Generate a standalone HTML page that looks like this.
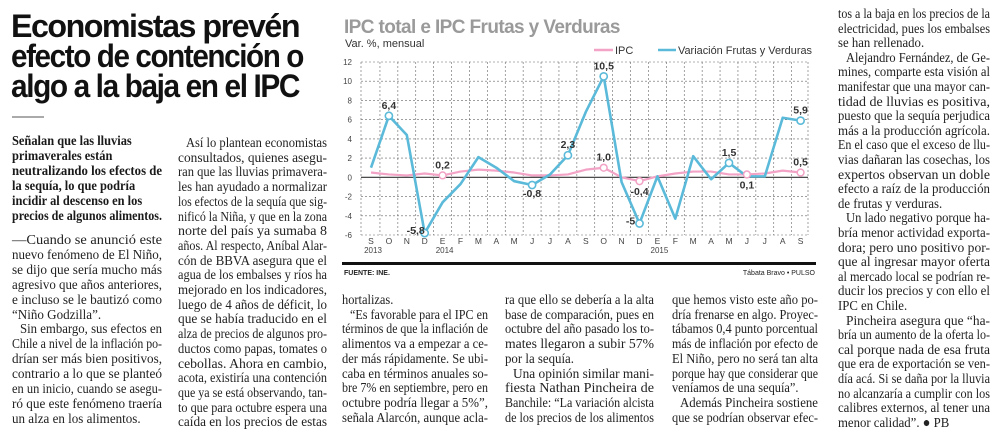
<!DOCTYPE html>
<html><head><meta charset="utf-8"><style>
body{margin:0;width:999px;height:429px;overflow:hidden;background:#fff;position:relative;font-family:"Liberation Serif",serif;color:#222}
.ln{position:absolute;white-space:nowrap;font-size:14px;line-height:14px;height:14px}
.ln span{display:inline-block;transform-origin:0 50%}
.dek{font-weight:bold;color:#1a1a1a;font-size:14px}
.hl{position:absolute;left:11px;font-family:"Liberation Sans",sans-serif;font-weight:bold;font-size:32px;letter-spacing:-1.5px;white-space:nowrap;color:#111;line-height:31px}
.hl span{display:inline-block;transform-origin:0 50%}
</style></head><body>
<div class="hl" style="top:11px"><span data-w="288">Economistas prevén</span></div>
<div class="hl" style="top:41px"><span data-w="292">efecto de contención o</span></div>
<div class="hl" style="top:71px"><span data-w="288">algo a la baja en el IPC</span></div>
<div style="position:absolute;left:12px;top:116px;width:32px;height:2px;background:#aaa"></div>

<svg id="chart" width="999" height="429" style="position:absolute;left:0;top:0" xmlns="http://www.w3.org/2000/svg" font-family="Liberation Sans, sans-serif"></svg>

<div id="text"></div>

<script>
const months = ["S","O","N","D","E","F","M","A","M","J","J","A","S","O","N","D","E","F","M","A","M","J","J","A","S"];
const yearLabels = [[0,"2013"],[4,"2014"],[16,"2015"]];
const ipc = [0.5,0.3,0.2,0.4,0.2,0.6,0.8,0.7,0.5,0.2,0.2,0.3,0.8,1.0,0.0,-0.4,0.1,0.4,0.6,0.6,0.3,0.3,0.4,0.7,0.5];
const frutas = [1.0,6.4,4.4,-5.8,-2.6,-0.7,2.1,1.0,-0.4,-0.8,0.3,2.3,6.8,10.5,-0.5,-4.8,0.1,-4.3,2.2,-0.2,1.5,0.1,0.1,6.2,5.9];
const yTicks = [12,10,8,6,4,2,0,-2,-4,-6];
const frutasLabels = [[1,"6,4"],[3,"-5,8"],[9,"-0,8"],[11,"2,3"],[13,"10,5"],[15,"-5"],[20,"1,5"],[24,"5,9"]];
const ipcLabels = [[4,"0,2"],[13,"1,0"],[15,"-0,4"],[21,"0,1"],[24,"0,5"]];

const NS="http://www.w3.org/2000/svg";
const svg=document.getElementById('chart');
const L=361,R=808,T=62,B=235,X0=371,DX=17.9;
const x=i=>X0+i*DX;
const y=v=>T+(12-v)*(B-T)/18;
function mk(tag,attrs,text){const e=document.createElementNS(NS,tag);for(const k in attrs)e.setAttribute(k,attrs[k]);if(text!==undefined)e.textContent=text;svg.appendChild(e);return e;}

let e;
e=mk('text',{x:344,y:33,'font-size':19,'font-weight':'bold',fill:'#9a9a9a','letter-spacing':'-0.6'},'IPC total e IPC Frutas y Verduras');


e=mk('text',{x:345,y:47,'font-size':11,fill:'#333'},'Var. %, mensual');


e=mk('line',{x1:594,x2:613,y1:50,y2:50,stroke:'#f2a3c6','stroke-width':2.5});


e=mk('text',{x:615,y:54,'font-size':11,fill:'#333'},'IPC');


e=mk('line',{x1:658,x2:676,y1:50,y2:50,stroke:'#5bbad9','stroke-width':2.5});


e=mk('text',{x:678,y:54,'font-size':11,fill:'#333',textLength:134,lengthAdjust:'spacingAndGlyphs'},'Variación Frutas y Verduras');



yTicks.forEach(t=>{
  e=mk('line',{x1:L,x2:R,y1:y(t),y2:y(t),stroke:t===0?'#333':'#666','stroke-width':t===0?1.2:0.6,'stroke-dasharray':t===0?'':'2,2'});
  
  
  e=mk('text',{x:352,y:y(t)+3,'font-size':8,fill:'#444','text-anchor':'end'},String(t));
  
  
});
for(let i=0;i<=months.length;i++){
  const xx=i===0?L:(i===months.length?R:x(i)-DX/2);
  e=mk('line',{x1:xx,x2:xx,y1:T,y2:B,stroke:'#666','stroke-width':0.6,'stroke-dasharray':'2,2'});
  
  
}
months.forEach((m,i)=>{
  e=mk('text',{x:x(i),y:244,'font-size':8.5,fill:'#444','text-anchor':'middle'},m);
  
  
});
yearLabels.forEach(([i,t])=>{
  e=mk('text',{x:x(i)+2,y:253,'font-size':8,fill:'#444','text-anchor':'middle'},t);
  
  
});
function pts(a){return a.map((v,i)=>x(i)+','+y(v)).join(' ');}
e=mk('polyline',{points:pts(ipc),fill:'none',stroke:'#f2a3c6','stroke-width':2.2,'stroke-linejoin':'round'});


e=mk('polyline',{points:pts(frutas),fill:'none',stroke:'#5bbad9','stroke-width':2.6,'stroke-linejoin':'round'});


frutasLabels.forEach(([i,t])=>{
  e=mk('circle',{cx:x(i),cy:y(frutas[i]),r:3.6,fill:'#fff',stroke:'#5bbad9','stroke-width':1.6});
  
  
  const below=frutas[i]<0;
  e=mk('text',{x:x(i)+(below&&i!==9?-9:0),y:below?y(frutas[i])+(i===9?12:1):y(frutas[i])-7,'font-size':10.5,'font-weight':'bold',fill:'#333','text-anchor':'middle'},t);
  
  
});
ipcLabels.forEach(([i,t])=>{
  e=mk('circle',{cx:x(i),cy:y(ipc[i]),r:3.4,fill:'#fff',stroke:'#f2a3c6','stroke-width':1.5});
  
  
  const below=ipc[i]<0||i===21;
  e=mk('text',{x:x(i),y:below?y(ipc[i])+14:y(ipc[i])-7,'font-size':10.5,'font-weight':'bold',fill:'#333','text-anchor':'middle'},t);
  
  
});
e=mk('rect',{x:342,y:262,width:474,height:3,fill:'#111'});


e=mk('text',{x:344,y:275,'font-size':7,'font-weight':'bold',fill:'#222'},'FUENTE: INE.');


e=mk('text',{x:815,y:275,'font-size':7,fill:'#222','text-anchor':'end'},'Tábata Bravo  •  PULSO');



const cols=[
 [12,150,142,15,["|Señalan que las lluvias","|primaverales están","neutralizando los efectos de","|la sequía, lo que podría","|incidir al descenso en los","precios de algunos alimentos."],true],
 [12,150,241,14.9,["—Cuando se anunció este","nuevo fenómeno de El Niño,","se dijo que sería mucho más","agresivo que años anteriores,","e incluso se le bautizó como","|“Niño Godzilla”.",">Sin embargo, sus efectos en","Chile a nivel de la inflación po-","drían ser más bien positivos,","contrario a lo que se planteó","en un inicio, cuando se asegu-","ró que este fenómeno traería","|un alza en los alimentos."]],
 [178,149,144,14.7,[">Así lo plantean economistas","consultados, quienes asegu-","ran que las lluvias primavera-","les han ayudado a normalizar","los efectos de la sequía que sig-","nificó la Niña, y que en la zona","norte del país ya sumaba 8","años. Al respecto, Aníbal Alar-","cón de BBVA asegura que el","agua de los embalses y ríos ha","mejorado en los indicadores,","luego de 4 años de déficit, lo","que se había traducido en el","alza de precios de algunos pro-","ductos como papas, tomates o","cebollas. Ahora en cambio,","acota, existiría una contención","que ya se está observando, tan-","to que para octubre espera una","caída en los precios de estas"]],
 [342,146,301,14.7,["|hortalizas.",">“Es favorable para el IPC en","términos de que la inflación de","alimentos va a empezar a ce-","der más rápidamente. Se ubi-","caba en términos anuales so-","bre 7% en septiembre, pero en","octubre podría llegar a 5%”,","señala Alarcón, aunque acla-"]],
 [505,149,301,14.7,["ra que ello se debería a la alta","base de comparación, pues en","octubre del año pasado los to-","mates llegaron a subir 57%","|por la sequía.",">Una opinión similar mani-","fiesta Nathan Pincheira de","Banchile: “La variación alcista","de los precios de los alimentos"]],
 [672,146,301,14.7,["que hemos visto este año po-","dría frenarse en algo. Proyec-","tábamos 0,4 punto porcentual","más de inflación por efecto de","El Niño, pero no será tan alta","porque hay que considerar que","|veníamos de una sequía”.",">Además Pincheira sostiene","que se podrían observar efec-"]],
 [838,152,15,14.6,["tos a la baja en los precios de la","electricidad, pues los embalses","|se han rellenado.",">Alejandro Fernández, de Ge-","mines, comparte esta visión al","manifestar que una mayor can-","tidad de lluvias es positiva,","puesto que la sequía perjudica","más a la producción agrícola.","En el caso que el exceso de llu-","vias dañaran las cosechas, los","expertos observan un doble","efecto a raíz de la producción","|de frutas y verduras.",">Un lado negativo porque ha-","bría menor actividad exporta-","dora; pero uno positivo por-","que al ingresar mayor oferta","al mercado local se podrían re-","ducir los precios y con ello el","|IPC en Chile.",">Pincheira asegura que “ha-","bría un aumento de la oferta lo-","cal porque nada de esa fruta","que era de exportación se ven-","día acá. Si se daña por la lluvia","no alcanzaría a cumplir con los","calibres externos, al tener una","|menor calidad”. ● PB"]]
];
const tc=document.getElementById('text');
cols.forEach((c,ci)=>{
  const [lx,w,y0,sp,lines,dek]=c;
  const spans=[];
  lines.forEach((s,i)=>{
    let last=false,ind=0;
    if(s[0]==='|'){last=true;s=s.slice(1);}
    if(s[0]==='>'){ind=8;s=s.slice(1);}
    if(s[0]==='|'){last=true;s=s.slice(1);}
    const d=document.createElement('div');
    d.className='ln'+(dek?' dek':'');
    
    
    d.style.left=(lx+ind)+'px';
    d.style.top=(y0+i*sp-7)+'px';
    const sEl=document.createElement('span');
    sEl.textContent=s;
    d.appendChild(sEl);
    tc.appendChild(d);
    spans.push([sEl,last,w-ind]);
  });
  let sum=0,n=0;
  spans.forEach(([s,last,tw])=>{s._cw=s.getBoundingClientRect().width;if(!last){s._sc=tw/s._cw;sum+=s._sc;n++;}});
  const avg=n?sum/n:0.85;
  spans.forEach(([s,last,tw])=>{
    const sc=last?Math.min(avg,tw/s._cw):s._sc;
    s.style.transform='scaleX('+sc+')';
  });
});
document.querySelectorAll('.hl span').forEach(s=>{
  const cw=s.getBoundingClientRect().width;
  s.style.transform='scaleX('+(parseFloat(s.dataset.w)/cw)+')';
});
</script>
</body></html>
